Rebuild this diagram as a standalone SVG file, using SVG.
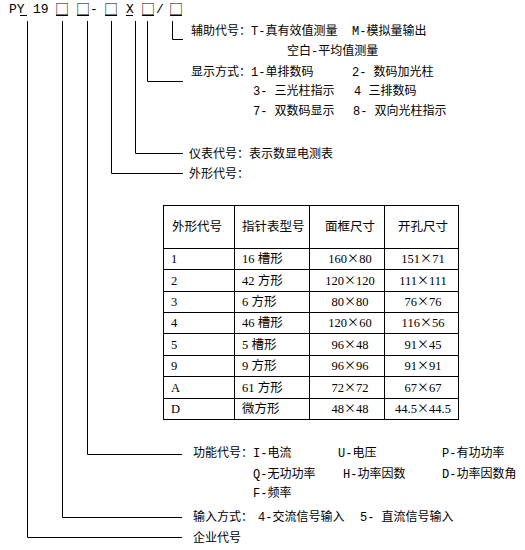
<svg xmlns="http://www.w3.org/2000/svg" width="525" height="550" viewBox="0 0 525 550">
<style>
.t{font-family:"Liberation Mono","Noto Sans CJK SC",monospace;font-size:12px;fill:#000}
.h{font-family:"Liberation Mono","Noto Sans CJK SC",monospace;font-size:13px;fill:#000}
.b{font-family:"Noto Sans CJK SC","DejaVu Sans",sans-serif;font-size:14px;fill:#000}
.c{font-family:"Liberation Serif","Noto Sans CJK SC",serif;font-size:12.5px;fill:#000}
.x{font-family:"Noto Sans CJK SC",sans-serif;font-size:12px}
.m{text-anchor:middle}
.ln{stroke:#000;stroke-width:1;fill:none}
</style>
<rect width="525" height="550" fill="#fff"/>
<g id="model-code">
<text class="h" x="9" y="13">PY</text>
<text class="h" x="33" y="13">19</text>
<text class="b" x="55" y="14">□</text>
<text class="b" x="76" y="14">□</text>
<text class="h" x="90" y="13">-</text>
<text class="b" x="104" y="14">□</text>
<text class="h" x="126" y="13">X</text>
<text class="b" x="141" y="14">□</text>
<text class="h" x="156" y="13">/</text>
<text class="b" x="169" y="14">□</text>
<g class="ln">
<line x1="20" y1="15.5" x2="27" y2="15.5"/>
<line x1="56" y1="15.5" x2="68" y2="15.5"/>
<line x1="77" y1="15.5" x2="89" y2="15.5"/>
<line x1="105" y1="15.5" x2="117" y2="15.5"/>
<line x1="126" y1="15.5" x2="133" y2="15.5"/>
<line x1="142" y1="15.5" x2="154" y2="15.5"/>
<line x1="170" y1="15.5" x2="182" y2="15.5"/>
</g>
</g>
<g id="connectors" class="ln">
<polyline points="172.5,21 172.5,39.5 183,39.5"/>
<polyline points="147.5,21 147.5,81.5 183,81.5"/>
<polyline points="135.5,21 135.5,153.5 183,153.5"/>
<polyline points="111.5,21 111.5,173.5 183,173.5"/>
<polyline points="87.5,21 87.5,454.5 182,454.5"/>
<polyline points="62.5,21 62.5,517.5 182,517.5"/>
<polyline points="27.5,21 27.5,537.5 182,537.5"/>
</g>
<g id="aux-code">
<text class="t" x="191" y="35">辅助代号：T-真有效值测量</text>
<text class="t" x="352" y="35">M-模拟量输出</text>
<text class="t" x="287" y="55">空白-平均值测量</text>
</g>
<g id="display-mode">
<text class="t" x="191" y="76">显示方式：1-单排数码</text>
<text class="t" x="352" y="76">2- 数码加光柱</text>
<text class="t" x="253" y="95">3- 三光柱指示</text>
<text class="t" x="354" y="95">4 三排数码</text>
<text class="t" x="253" y="115">7- 双数码显示</text>
<text class="t" x="353" y="115">8- 双向光柱指示</text>
</g>
<g id="instrument-code">
<text class="t" x="189" y="158">仪表代号：表示数显电测表</text>
</g>
<g id="shape-code">
<text class="t" x="189" y="178">外形代号：</text>
</g>
<g id="table">
<g class="ln">
<rect x="163.5" y="205.5" width="295" height="214"/>
<line x1="234.5" y1="205.5" x2="234.5" y2="419.5"/>
<line x1="309.5" y1="205.5" x2="309.5" y2="419.5"/>
<line x1="384.5" y1="205.5" x2="384.5" y2="419.5"/>
<line x1="163.5" y1="248.5" x2="458.5" y2="248.5"/>
<line x1="163.5" y1="269.5" x2="458.5" y2="269.5"/>
<line x1="163.5" y1="291.5" x2="458.5" y2="291.5"/>
<line x1="163.5" y1="312.5" x2="458.5" y2="312.5"/>
<line x1="163.5" y1="333.5" x2="458.5" y2="333.5"/>
<line x1="163.5" y1="355.5" x2="458.5" y2="355.5"/>
<line x1="163.5" y1="376.5" x2="458.5" y2="376.5"/>
<line x1="163.5" y1="398.5" x2="458.5" y2="398.5"/>
</g>
<text class="c" x="172" y="231">外形代号</text>
<text class="c" x="242" y="231">指针表型号</text>
<text class="c m" x="350" y="231">面框尺寸</text>
<text class="c m" x="423" y="231">开孔尺寸</text>
<g>
<text class="c" x="171" y="263">1</text><text class="c" x="242" y="263">16 槽形</text><text class="c m" x="350" y="263">160<tspan class="x">×</tspan>80</text><text class="c m" x="423" y="263">151<tspan class="x">×</tspan>71</text>
<text class="c" x="171" y="285">2</text><text class="c" x="242" y="285">42 方形</text><text class="c m" x="350" y="285">120<tspan class="x">×</tspan>120</text><text class="c m" x="423" y="285">111<tspan class="x">×</tspan>111</text>
<text class="c" x="171" y="306">3</text><text class="c" x="242" y="306">6 方形</text><text class="c m" x="350" y="306">80<tspan class="x">×</tspan>80</text><text class="c m" x="423" y="306">76<tspan class="x">×</tspan>76</text>
<text class="c" x="171" y="327">4</text><text class="c" x="242" y="327">46 槽形</text><text class="c m" x="350" y="327">120<tspan class="x">×</tspan>60</text><text class="c m" x="423" y="327">116<tspan class="x">×</tspan>56</text>
<text class="c" x="171" y="349">5</text><text class="c" x="242" y="349">5 槽形</text><text class="c m" x="350" y="349">96<tspan class="x">×</tspan>48</text><text class="c m" x="423" y="349">91<tspan class="x">×</tspan>45</text>
<text class="c" x="171" y="370">9</text><text class="c" x="242" y="370">9 方形</text><text class="c m" x="350" y="370">96<tspan class="x">×</tspan>96</text><text class="c m" x="423" y="370">91<tspan class="x">×</tspan>91</text>
<text class="c" x="171" y="392">A</text><text class="c" x="242" y="392">61 方形</text><text class="c m" x="350" y="392">72<tspan class="x">×</tspan>72</text><text class="c m" x="423" y="392">67<tspan class="x">×</tspan>67</text>
<text class="c" x="171" y="413">D</text><text class="c" x="242" y="413">微方形</text><text class="c m" x="350" y="413">48<tspan class="x">×</tspan>48</text><text class="c m" x="423" y="413">44.5<tspan class="x">×</tspan>44.5</text>
</g>
</g>
<g id="function-code">
<text class="t" x="193" y="457">功能代号：I-电流</text>
<text class="t" x="338" y="457">U-电压</text>
<text class="t" x="442" y="457">P-有功功率</text>
<text class="t" x="253" y="478">Q-无功功率</text>
<text class="t" x="343" y="478">H-功率因数</text>
<text class="t" x="442" y="478">D-功率因数角</text>
<text class="t" x="253" y="497">F-频率</text>
</g>
<g id="input-mode">
<text class="t" x="193" y="521">输入方式：</text>
<text class="t" x="258" y="521">4-交流信号输入</text>
<text class="t" x="360" y="521">5- 直流信号输入</text>
</g>
<g id="company-code">
<text class="t" x="193" y="542">企业代号</text>
</g>
</svg>
